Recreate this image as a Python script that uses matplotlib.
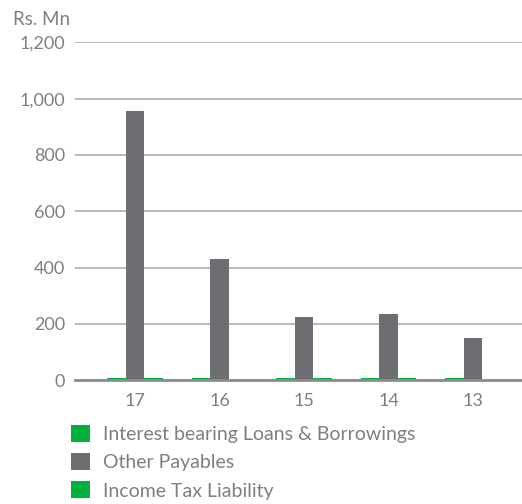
import matplotlib.pyplot as plt
import numpy as np

plt.rcParams['font.family'] = ['Lato', 'DejaVu Sans']

years = ['17', '16', '15', '14', '13']
loans = [8, 8, 8, 8, 8]
other_payables = [955, 430, 225, 235, 150]
income_tax = [8, 0, 8, 8, 0]

green = '#00b140'
grey = '#6d6e71'
text_c = '#7f7f7f'

fig = plt.figure(figsize=(5.22, 5.04), dpi=100)
ax = fig.add_axes([0.1437, 0.2454, 0.8563, 0.6706])

x = np.arange(len(years))
w = 0.22
ax.bar(x - w, loans, w, color=green, label='Interest bearing Loans & Borrowings', zorder=3)
ax.bar(x, other_payables, w, color=grey, label='Other Payables', zorder=3)
ax.bar(x + w, income_tax, w, color=green, label='Income Tax Liability', zorder=3)

ax.set_xlim(-0.71, 4.58)
ax.set_ylim(0, 1200)
ax.set_yticks(range(0, 1201, 200))
ax.set_yticklabels([f'{v:,}' for v in range(0, 1201, 200)])
ax.set_xticks(x)
ax.set_xticklabels(years)

ax.yaxis.grid(True, color='#b3b3b3', linewidth=1.3, zorder=0)
for s in ['top', 'right', 'left']:
    ax.spines[s].set_visible(False)
ax.spines['bottom'].set_color('#8c8c8c')
ax.spines['bottom'].set_linewidth(2)
ax.spines['bottom'].set_zorder(4)
ax.tick_params(axis='both', length=0, labelsize=13, labelcolor=text_c)
ax.tick_params(axis='y', pad=7)
ax.tick_params(axis='x', pad=9)

fig.text(0.025, 0.962, 'Rs. Mn', fontsize=13.5, color=text_c, va='center')

fig.legend(loc='upper left', bbox_to_anchor=(0.122, 0.172), frameon=False,
           fontsize=14, labelcolor=text_c, handlelength=0.95, handleheight=0.95,
           handletextpad=0.65, labelspacing=0.52, borderaxespad=0)

fig.savefig('out.png')
